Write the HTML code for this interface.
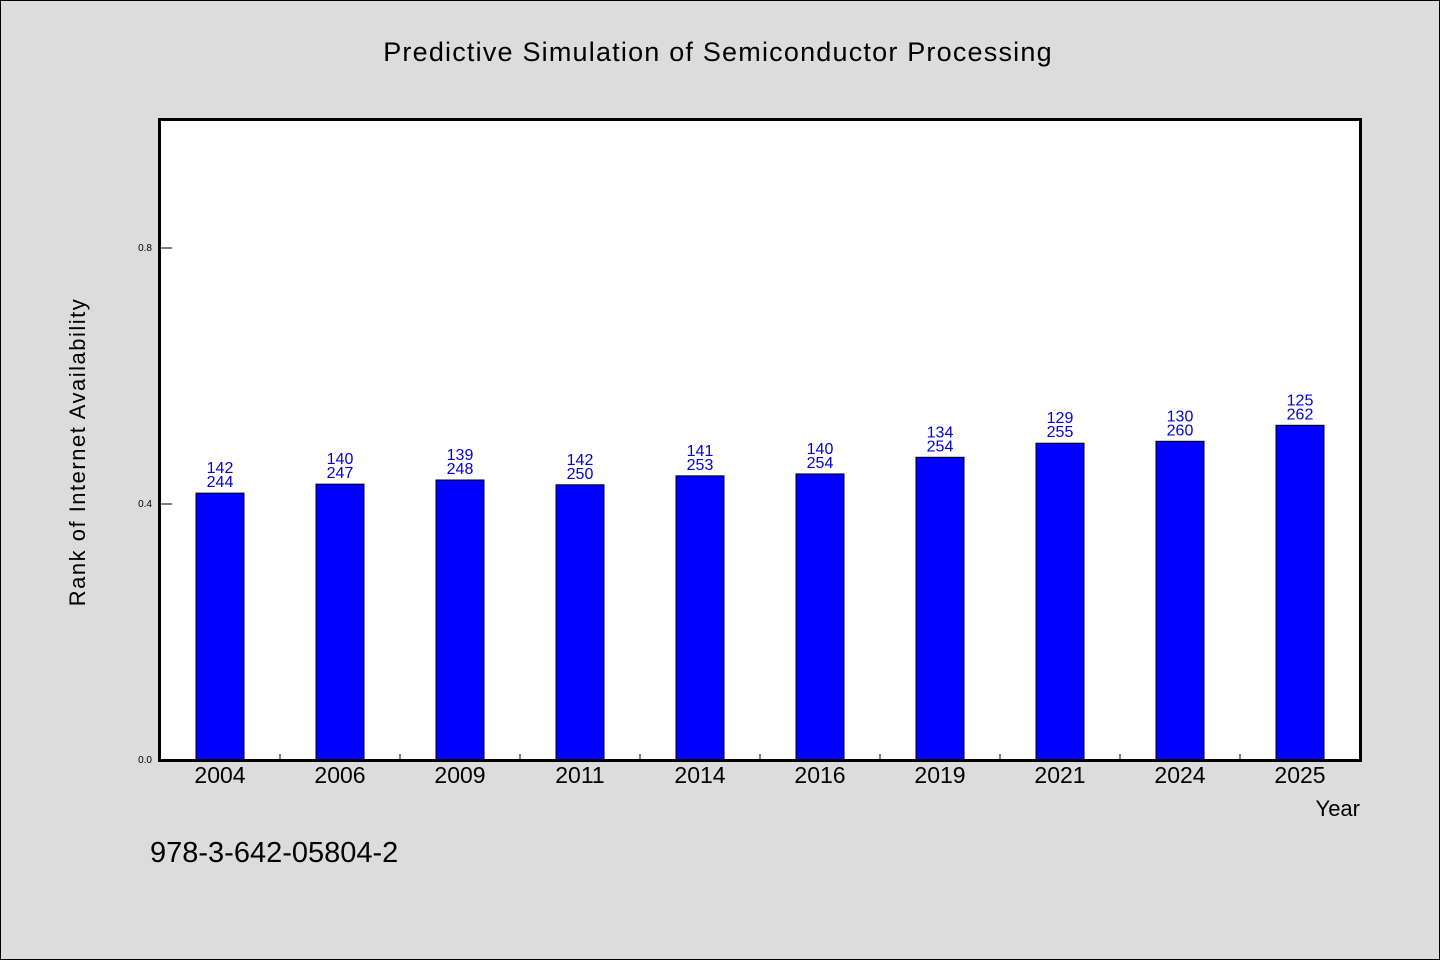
<!DOCTYPE html>
<html><head><meta charset="utf-8">
<style>
html,body{margin:0;padding:0;}
body{width:1440px;height:960px;background:#dcdcdc;font-family:"WenQuanYi Zen Hei","Liberation Sans",sans-serif;position:relative;overflow:hidden;}
.frame{position:absolute;left:0;top:0;width:1438px;height:958px;border:1px solid #000;}
svg{position:absolute;left:0;top:0;}
</style></head>
<body>
<div class="frame"></div>
<svg id="chart" width="1440" height="960">
<text x="718" y="61" text-anchor="middle" font-size="27" letter-spacing="1.2" fill="#000">Predictive Simulation of Semiconductor Processing</text>
<rect x="160" y="120" width="1200" height="640" fill="#fff"/>
<text transform="translate(85,452) rotate(-90)" text-anchor="middle" font-size="22" letter-spacing="1.5" fill="#000">Rank of Internet Availability</text>
<text x="1360" y="816" text-anchor="end" font-size="22" fill="#000">Year</text>
<text x="150" y="862" font-size="29" fill="#000">978-3-642-05804-2</text>
<g id="marks"></g>
<rect x="159.5" y="119.5" width="1201" height="641" fill="none" stroke="#000" stroke-width="3"/>
</svg>
<script>
const categories=["2004","2006","2009","2011","2014","2016","2019","2021","2024","2025"];
const values=[0.417,0.431,0.4375,0.430,0.444,0.447,0.473,0.495,0.498,0.523];
const labelTop=["142","140","139","142","141","140","134","129","130","125"];
const labelBottom=["244","247","248","250","253","254","254","255","260","262"];
const yTicks=[0,0.4,0.8];
const yTickLabels=["0.0","0.4","0.8"];
const X0=160,X1=1360,Y0=760,Y1=120,YMAX=1.0;
const band=(X1-X0)/categories.length;
const xc=i=>X0+band*(i+0.5);
const y=v=>Y0-(v/YMAX)*(Y0-Y1);
const NS="http://www.w3.org/2000/svg";
const g=document.getElementById('marks');
function mk(t,a){const e=document.createElementNS(NS,t);for(const k in a)e.setAttribute(k,a[k]);g.appendChild(e);return e;}
yTicks.forEach((v,i)=>{
  const l=mk('line',{x1:X0,x2:X0+12,y1:y(v),y2:y(v),stroke:'#000','stroke-width':1});
  
  
  const t=mk('text',{x:X0-8,y:y(v)+3,'text-anchor':'end','font-size':10,fill:'#000'});
  t.textContent=yTickLabels[i];
  
  
});
for(let i=1;i<categories.length;i++){
  const l=mk('line',{x1:X0+band*i,x2:X0+band*i,y1:Y0,y2:Y0-6,stroke:'#000','stroke-width':1});
  
  
}
categories.forEach((c,i)=>{
  const bw=48;
  const r=mk('rect',{x:xc(i)-bw/2,y:y(values[i]),width:bw,height:Y0-y(values[i]),fill:'#0000ff',stroke:'#000','stroke-width':1});
  
  
  const t1=mk('text',{x:xc(i),y:y(values[i])-20,'text-anchor':'middle','font-size':16,fill:'#0000dd'});
  t1.textContent=labelTop[i];
  
  
  const t2=mk('text',{x:xc(i),y:y(values[i])-6,'text-anchor':'middle','font-size':16,fill:'#0000dd'});
  t2.textContent=labelBottom[i];
  
  
  const xl=mk('text',{x:xc(i),y:Y0+23,'text-anchor':'middle','font-size':23,fill:'#000'});
  xl.textContent=c;
  
  
});
</script>
</body></html>
